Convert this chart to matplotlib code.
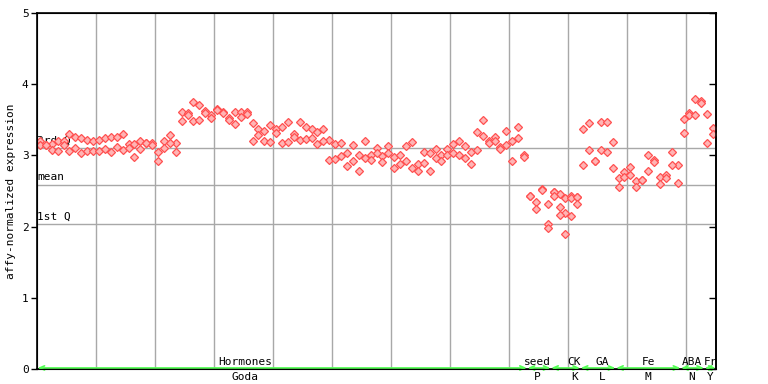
import numpy as np
import matplotlib
matplotlib.use("Agg")
import matplotlib.pyplot as plt

# expression values, two (sometimes three) replicates per sample
rep_a = [3.20, 3.15, 3.16, 3.20, 3.20, 3.30, 3.26, 3.24, 3.22, 3.20,
         3.22, 3.24, 3.26, 3.26, 3.30, 3.16, 3.16, 3.20, 3.17, 3.17,
         3.05, 3.20, 3.29, 3.17, 3.61, 3.60, 3.75, 3.71, 3.63, 3.57,
         3.65, 3.61, 3.53, 3.61, 3.61, 3.61, 3.45, 3.37, 3.34, 3.43,
         3.37, 3.40, 3.47, 3.30, 3.47, 3.40, 3.37, 3.33, 3.37, 3.22,
         3.16, 3.17, 3.03, 3.14, 3.01, 3.20, 3.00, 3.10, 2.99, 3.13,
         2.98, 3.00, 3.13, 3.19, 2.88, 3.05, 3.03, 3.09, 3.00, 3.09,
         3.16, 3.20, 3.13, 3.05, 3.33, 3.50, 3.20, 3.26, 3.12, 3.34,
         3.20, 3.40, 3.01, 2.43, 2.34, 2.53, 2.32, 2.49, 2.46, 2.40,
         2.43, 2.41, 3.37, 3.45, 2.92, 3.47, 3.47, 3.19, 2.68, 2.77,
         2.84, 2.64, 2.65, 3.00, 2.93, 2.70, 2.72, 3.05, 2.86, 3.51,
         3.59, 3.79, 3.76, 3.58, 3.38]
rep_b = [3.15, 3.14, 3.07, 3.06, 3.14, 3.06, 3.10, 3.03, 3.06, 3.06,
         3.06, 3.09, 3.05, 3.12, 3.07, 3.10, 2.98, 3.09, 3.17, 3.14,
         2.92, 3.10, 3.17, 3.05, 3.48, 3.57, 3.48, 3.50, 3.59, 3.53,
         3.64, 3.59, 3.50, 3.44, 3.54, 3.58, 3.20, 3.28, 3.20, 3.19,
         3.31, 3.17, 3.19, 3.26, 3.22, 3.23, 3.24, 3.16, 3.20, 2.93,
         2.95, 2.99, 2.85, 2.92, 2.78, 2.96, 2.93, 3.03, 2.91, 3.03,
         2.82, 2.88, 2.92, 2.82, 2.78, 2.89, 2.78, 2.96, 2.92, 3.00,
         3.03, 3.00, 2.96, 2.88, 3.07, 3.27, 3.17, 3.20, 3.09, 3.15,
         2.92, 3.24, 2.98, 2.43, 2.25, 2.52, 2.03, 2.48, 2.27, 2.19,
         2.40, 2.41, 2.86, 3.07, 2.92, 3.07, 3.05, 2.82, 2.55, 2.70,
         2.72, 2.55, 2.65, 2.78, 2.91, 2.60, 2.68, 2.86, 2.61, 3.31,
         3.57, 3.57, 3.74, 3.17, 3.30]
rep_c = [np.nan] * 115
for i, v in zip([86, 87, 88, 89, 90, 91], [1.98, 2.43, 2.16, 1.89, 2.15, 2.32]):
    rep_c[i] = v

quartiles = {"3rd Q": 3.10, "mean": 2.58, "1st Q": 2.03}

# groups: sample index ranges
group_top = ["Hormones", "seed", "CK", "GA", "Fe", "ABA", "Fr"]
group_bottom = ["Goda", "P", "K", "L", "M", "N", "Y"]
group_start = [0, 83, 87, 92, 98, 109, 113]
group_end = [82, 86, 91, 97, 108, 112, 114]
label_pos = [34.8, 84.3, 90.5, 95.3, 103.0, 110.4, 113.5]

n = len(rep_a)
x = np.arange(n)

red = "#ff5050"
green = "#55ff55"
grid_col = "#a8a8a8"
mono = "DejaVu Sans Mono"

fig = plt.figure(figsize=(7.68, 3.84), dpi=100)
ax = fig.add_axes([37 / 768, 15 / 384, 679 / 768, 356 / 384])
ax.set_xlim(-0.5, n - 0.5)
ax.set_ylim(0, 5)

for k in range(1, 12):
    ax.axvline(10 * k - 0.5, color=grid_col, lw=1.0, zorder=1)
for name, val in quartiles.items():
    ax.axhline(val, color=grid_col, lw=1.0, zorder=1)
    ax.text(-0.45, val + 0.04, name, fontsize=8, family=mono, ha="left", va="bottom", zorder=2)

for reps in (rep_a, rep_b, rep_c):
    ax.plot(x, reps, ls="none", marker="D", ms=4.2, mfc="#ffb4b4", mec=red, mew=0.9, zorder=3)

# group arrows along the bottom
for s, e in zip(group_start, group_end):
    ax.annotate("", xy=(e + 0.45, 0.015), xytext=(s - 0.4, 0.015),
                arrowprops=dict(arrowstyle="<->,head_length=0.35,head_width=0.15", color=green, lw=1.2,
                                shrinkA=0, shrinkB=0),
                annotation_clip=False, zorder=4)
for top, bot, px in zip(group_top, group_bottom, label_pos):
    ax.text(px, 0.021, top, fontsize=8, family=mono, ha="center", va="center",
            transform=ax.get_xaxis_transform())
    ax.text(px, -0.022, bot, fontsize=8, family=mono, ha="center", va="center",
            transform=ax.get_xaxis_transform())

ax.set_xticks([])
ax.set_yticks(range(6))
ax.set_yticklabels([str(v) for v in range(6)], family=mono, fontsize=8)
ax.tick_params(axis="y", direction="out", length=4, width=1, pad=2)
for sp in ax.spines.values():
    sp.set_color("black")
    sp.set_linewidth(1.2)

ax2 = ax.twinx()
ax2.set_ylim(0, 5)
ax2.set_yticks(range(6))
ax2.tick_params(axis="y", direction="in", length=5, width=1, labelright=False)
ax2.spines["right"].set_linewidth(1.2)

fig.text(0.014, 0.503, "affy-normalized expression", rotation=90, fontsize=8,
         family=mono, ha="center", va="center")

plt.savefig("out.png", dpi=100)
plt.close()
